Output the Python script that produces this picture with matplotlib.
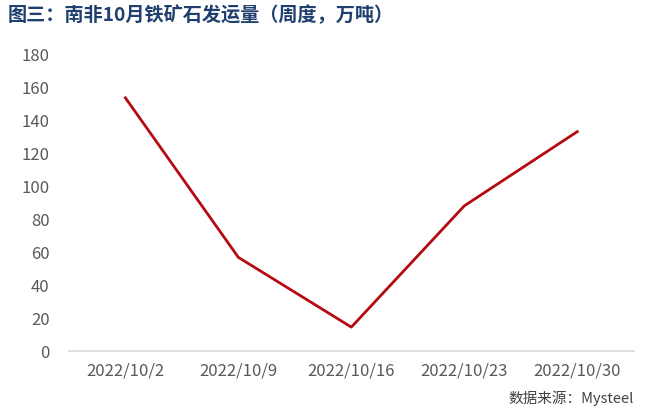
import matplotlib.pyplot as plt

plt.rcParams['font.family'] = ['Noto Sans CJK SC', 'DejaVu Sans']

# weekly shipments, 10k tonnes
dates = ['2022/10/2', '2022/10/9', '2022/10/16', '2022/10/23', '2022/10/30']
shipments = [153.5, 56.8, 14.5, 88.0, 133.0]
y_ticks = [0, 20, 40, 60, 80, 100, 120, 140, 160, 180]

fig = plt.figure(figsize=(6.5, 4.13), dpi=100)
ax = fig.add_axes([0.106, 0.150, 0.869, 0.719])

x = range(len(dates))
ax.plot(x, shipments, color='#B50A12', linewidth=2.0)

ax.set_xlim(-0.5, len(dates) - 0.5)
ax.set_ylim(0, 180)
ax.set_yticks(y_ticks)
ax.set_xticks(list(x))
ax.set_xticklabels(dates)
ax.tick_params(axis='both', length=0, labelsize=12, colors='#595959')
ax.tick_params(axis='y', pad=14)
ax.tick_params(axis='x', pad=8)

for side in ['top', 'right', 'left']:
    ax.spines[side].set_visible(False)
ax.spines['bottom'].set_color('#D9D9D9')
ax.spines['bottom'].set_linewidth(1.2)

fig.text(0.012, 0.962, '图三：南非10月铁矿石发运量（周度，万吨）', fontsize=13.8,
         fontweight='bold', color='#1F3F6E', va='center')
fig.text(0.975, 0.035, '数据来源：Mysteel', fontsize=10.5, color='#404040',
         ha='right', va='center', family=['Noto Sans CJK SC', 'DejaVu Sans Mono'])

fig.savefig('out.png', dpi=100)
